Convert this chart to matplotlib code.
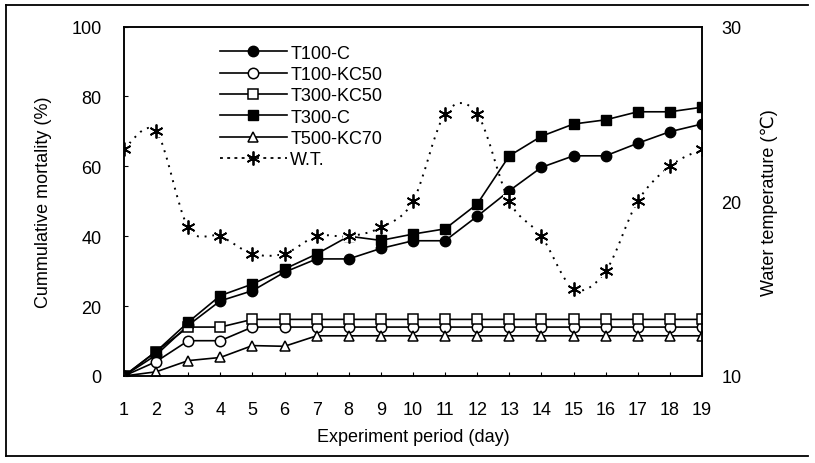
import numpy as np
import matplotlib
matplotlib.use("Agg")
import matplotlib.pyplot as plt
from matplotlib.path import Path
from matplotlib.patches import PathPatch
from matplotlib.lines import Line2D

plt.rcParams['font.family'] = ['Liberation Sans', 'DejaVu Sans']
plt.rcParams['font.size'] = 13

# data
days = list(range(1, 20))
t100_c = [0, 6, 14.5, 21.5, 24.4, 29.7, 33.5, 33.5, 36.5, 38.7, 38.7, 45.7, 53.0, 59.7, 63.0, 63.0, 66.6, 69.9, 72.1]
t100_kc50 = [0, 4.1, 10.1, 10.1, 14, 14, 14, 14, 14, 14, 14, 14, 14, 14, 14, 14, 14, 14, 14]
t300_kc50 = [0, 7, 14, 14, 16.2, 16.2, 16.2, 16.2, 16.2, 16.2, 16.2, 16.2, 16.2, 16.2, 16.2, 16.2, 16.2, 16.2, 16.2]
t300_c = [0, 7, 15.4, 23.0, 26.3, 30.6, 34.9, 40.0, 38.8, 40.6, 42.1, 49.2, 63.0, 68.6, 72.1, 73.3, 75.6, 75.6, 76.9]
t500_kc70 = [0, 1.2, 4.4, 5.3, 8.7, 8.5, 11.5, 11.5, 11.5, 11.5, 11.5, 11.5, 11.5, 11.5, 11.5, 11.5, 11.5, 11.5, 11.5]
water_temp = [23, 24, 18.5, 18, 17, 17, 18, 18, 18.5, 20, 25, 25, 20, 18, 15, 16, 20, 22, 23]

fig = plt.figure(figsize=(8.15, 4.64), dpi=100)
ax = fig.add_axes([0.1521, 0.1875, 0.7092, 0.7532])
ax2 = ax.twinx()

lw = 1.2
ms = 7.5
handles = []
handles += ax.plot(days, t100_c, color='black', lw=lw, marker='o', ms=ms, mfc='black', mec='black', label='T100-C')
handles += ax.plot(days, t100_kc50, color='black', lw=lw, marker='o', ms=ms, mfc='white', mec='black', mew=1.1, label='T100-KC50')
handles += ax.plot(days, t300_kc50, color='black', lw=lw, marker='s', ms=ms, mfc='white', mec='black', mew=1.1, label='T300-KC50')
handles += ax.plot(days, t300_c, color='black', lw=lw, marker='s', ms=ms, mfc='black', mec='black', label='T300-C')
handles += ax.plot(days, t500_kc70, color='black', lw=lw, marker='^', ms=ms, mfc='white', mec='black', mew=1.1, label='T500-KC70')

# smoothed dotted line for water temperature (bezier through the points)
x = np.array(days, dtype=float)
y = np.array(water_temp, dtype=float)
px = np.concatenate([[x[0]], x, [x[-1]]])
py = np.concatenate([[y[0]], y, [y[-1]]])
verts = [(x[0], y[0])]
codes = [Path.MOVETO]
for i in range(len(x) - 1):
    c1 = (x[i] + (px[i + 2] - px[i]) / 6, y[i] + (py[i + 2] - py[i]) / 6)
    c2 = (x[i + 1] - (px[i + 3] - px[i + 1]) / 6, y[i + 1] - (py[i + 3] - py[i + 1]) / 6)
    verts += [c1, c2, (x[i + 1], y[i + 1])]
    codes += [Path.CURVE4] * 3
ax2.add_patch(PathPatch(Path(verts, codes), fill=False, edgecolor='black', lw=1.4,
                        linestyle=(0, (1.0, 3.0))))
star = (6, 2, 0)
# stars have a white box behind them, like the original
ax2.plot(days, water_temp, linestyle='none', marker='s', ms=8, mew=0, color='white')
ax2.plot(days, water_temp, linestyle='none', marker=star, ms=10, mew=1.3, color='black')
handles.append(Line2D([], [], color='black', lw=1.3, linestyle=(0, (1.6, 2.4)),
                      marker=star, ms=10, mew=1.3, label='W.T.'))

ax.set_xlim(1, 19)
ax.set_ylim(0, 100)
ax2.set_ylim(10, 30)
ax.set_xticks(days)
ax.set_yticks([0, 20, 40, 60, 80, 100])
ax2.set_yticks([10, 20, 30])
ax.tick_params(axis='x', direction='in', length=3, pad=18)
ax.tick_params(axis='y', direction='in', length=3, pad=16)
ax2.tick_params(axis='y', direction='in', length=0, pad=14)
for a in (ax, ax2):
    for s in a.spines.values():
        s.set_linewidth(1.1)

ax.set_xlabel('Experiment period (day)', labelpad=7)
ax.set_ylabel('Cummulative mortality (%)', labelpad=14)
ax2.set_ylabel('Water temperature (℃)', labelpad=14)

leg = ax2.legend(handles=handles, loc='upper left', bbox_to_anchor=(0.166, 0.948),
                 frameon=False, numpoints=1, handlelength=3.7, handletextpad=0.2,
                 labelspacing=0.24, borderpad=0, borderaxespad=0, fontsize=13)

# outer chart border
fig.add_artist(Line2D([6 / 815, 6 / 815], [1 - 6 / 464, 1 - 457 / 464], color='black', lw=1.3))
fig.add_artist(Line2D([6 / 815, 808 / 815], [1 - 6 / 464, 1 - 6 / 464], color='black', lw=1.3))
fig.add_artist(Line2D([6 / 815, 808 / 815], [1 - 457 / 464, 1 - 457 / 464], color='black', lw=1.3))

fig.savefig('out.png', dpi=100)
